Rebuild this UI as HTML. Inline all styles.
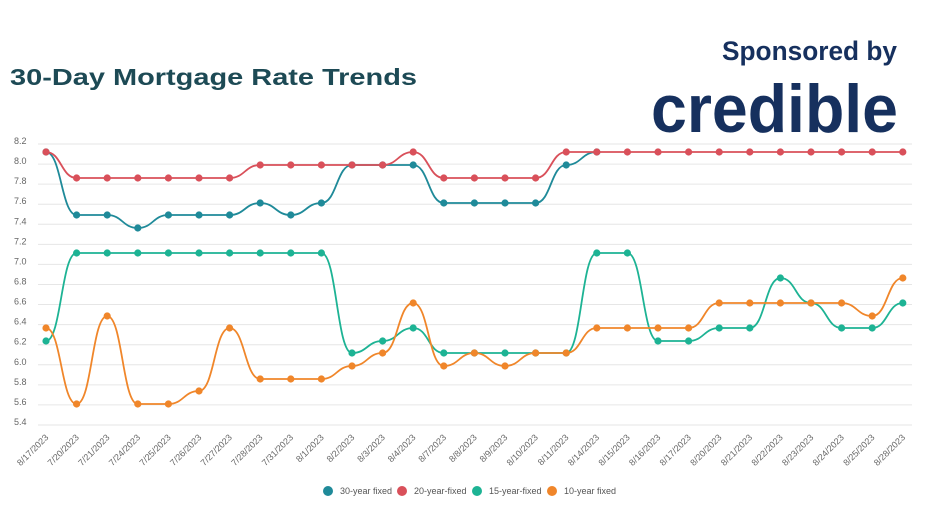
<!DOCTYPE html>
<html><head><meta charset="utf-8"><style>
html,body{margin:0;padding:0;background:#fff;}
svg{display:block;font-family:"Liberation Sans",sans-serif;}
</style></head><body>
<svg id="s" width="932" height="524" viewBox="0 0 932 524" xmlns="http://www.w3.org/2000/svg">
<text x="10" y="85" font-size="23" font-weight="bold" fill="#1d4a55" textLength="407" lengthAdjust="spacingAndGlyphs">30-Day Mortgage Rate Trends</text>
<text x="722" y="60" font-size="27" font-weight="bold" fill="#16305e" textLength="175" lengthAdjust="spacingAndGlyphs">Sponsored by</text>
<text x="651" y="132" font-size="68" font-weight="bold" fill="#16305e" textLength="247" lengthAdjust="spacingAndGlyphs">credible</text>
<g id="grid"></g>
<g id="series"></g>
<g id="labels" font-size="9" fill="#666"></g>
<g font-size="9" fill="#555">
<circle cx="328" cy="491" r="5" fill="#1f8a99"/><text x="340" y="494">30-year fixed</text>
<circle cx="402" cy="491" r="5" fill="#d9505a"/><text x="414" y="494">20-year-fixed</text>
<circle cx="477" cy="491" r="5" fill="#1db394"/><text x="489" y="494">15-year-fixed</text>
<circle cx="552" cy="491" r="5" fill="#f0862a"/><text x="564" y="494">10-year fixed</text>
</g>
</svg>
<script>
var NS="http://www.w3.org/2000/svg";
function el(t,a,p){var e=document.createElementNS(NS,t);for(var k in a)e.setAttribute(k,a[k]);p.appendChild(e);return e;}
var grid=document.getElementById('grid'),ser=document.getElementById('series'),lab=document.getElementById('labels');
for(var i=0;i<15;i++){var y=141+i*20.07;var v=(8.2-i*0.2).toFixed(1);
el('line',{x1:38,x2:912,y1:y+3,y2:y+3,stroke:'#e6e6e6','stroke-width':1},grid);
var t=el('text',{x:14,y:y+3,'font-size':9,fill:'#666'},grid);t.textContent=v;}
var dates=["8/17/2023","7/20/2023","7/21/2023","7/24/2023","7/25/2023","7/26/2023","7/27/2023","7/28/2023","7/31/2023","8/1/2023","8/2/2023","8/3/2023","8/4/2023","8/7/2023","8/8/2023","8/9/2023","8/10/2023","8/11/2023","8/14/2023","8/15/2023","8/16/2023","8/17/2023","8/20/2023","8/21/2023","8/22/2023","8/23/2023","8/24/2023","8/25/2023","8/28/2023"];
function X(i){return 46+i*30.6;}
dates.forEach(function(d,i){var t=el('text',{x:X(i)+3,y:438,'text-anchor':'end',transform:'rotate(-45 '+(X(i)+3)+' 438)'},lab);t.textContent=d;});
var red=[152,178,178,178,178,178,178,165,165,165,165,165,152,178,178,178,178,152,152,152,152,152,152,152,152,152,152,152,152];
var teal=[152,215,215,228,215,215,215,203,215,203,165,165,165,203,203,203,203,165,152];
var green=[341,253,253,253,253,253,253,253,253,253,353,341,328,353,353,353,353,353,253,253,341,341,328,328,278,303,328,328,303];
var orange=[328,404,316,404,404,391,328,379,379,379,366,353,303,366,353,366,353,353,328,328,328,328,303,303,303,303,303,316,278];
function path(a){var d='M'+X(0)+' '+a[0];for(var i=1;i<a.length;i++){var x0=X(i-1),x1=X(i),m=(x0+x1)/2;d+=' C'+m+' '+a[i-1]+' '+m+' '+a[i]+' '+x1+' '+a[i];}return d;}
function draw(a,c){el('path',{d:path(a),fill:'none',stroke:c,'stroke-width':1.8},ser);a.forEach(function(y,i){el('circle',{cx:X(i),cy:y,r:3.6,fill:c},ser);});}
draw(teal,'#1f8a99');draw(red,'#d9505a');draw(green,'#1db394');draw(orange,'#f0862a');
</script>
</body></html>
